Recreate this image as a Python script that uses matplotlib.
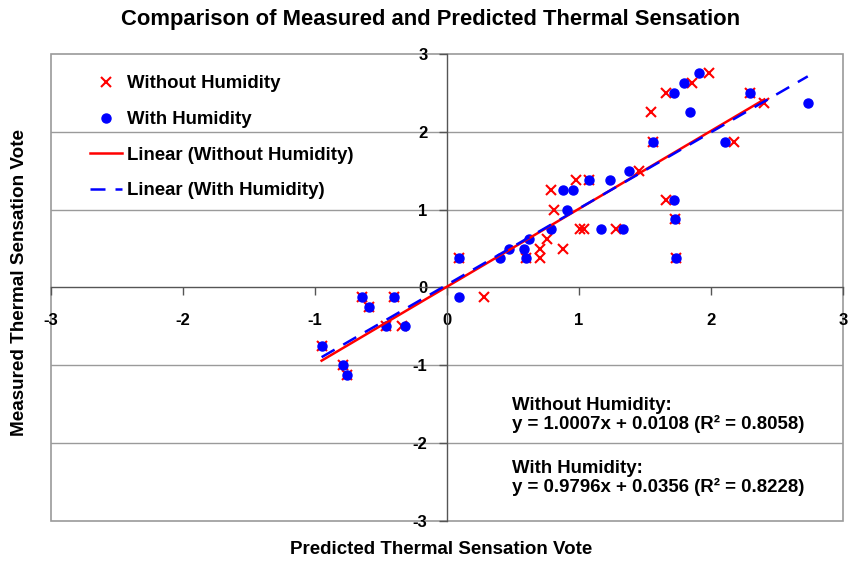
import matplotlib
matplotlib.use("Agg")
import matplotlib.pyplot as plt
from matplotlib.patches import Rectangle
import numpy as np

plt.rcParams['font.family'] = ['Liberation Sans', 'DejaVu Sans']
plt.rcParams['font.weight'] = 'bold'

# Without Humidity (red x)
wo_x = [-0.95, -0.785, -0.755, -0.645, -0.59, -0.46, -0.405, -0.34, 0.088, 0.278,
        0.602, 0.708, 0.708, 0.76, 0.88, 0.81, 0.79, 0.98, 1.075, 1.01, 1.04,
        1.278, 1.455, 1.561, 1.544, 1.658, 1.658, 1.726, 1.733, 1.855, 1.987,
        2.172, 2.295, 2.404]
wo_y = [-0.75, -1.0, -1.125, -0.125, -0.25, -0.5, -0.125, -0.5, 0.375, -0.125,
        0.375, 0.5, 0.375, 0.625, 0.5, 1.0, 1.25, 1.375, 1.375, 0.75, 0.75,
        0.75, 1.5, 1.875, 2.25, 2.5, 1.125, 0.875, 0.375, 2.625, 2.75,
        1.875, 2.5, 2.375]

# With Humidity (blue dots)
wh_x = [-0.95, -0.785, -0.755, -0.645, -0.59, -0.46, -0.405, -0.32, 0.088, 0.088,
        0.405, 0.468, 0.587, 0.602, 0.62, 0.79, 0.906, 0.88, 0.957, 1.075,
        1.235, 1.165, 1.336, 1.38, 1.561, 1.716, 1.716, 1.726, 1.733, 1.797,
        1.842, 1.906, 2.108, 2.295, 2.733]
wh_y = [-0.75, -1.0, -1.125, -0.125, -0.25, -0.5, -0.125, -0.5, 0.375, -0.125,
        0.375, 0.5, 0.5, 0.375, 0.625, 0.75, 1.0, 1.25, 1.25, 1.375,
        1.375, 0.75, 0.75, 1.5, 1.875, 2.5, 1.125, 0.875, 0.375, 2.625,
        2.25, 2.75, 1.875, 2.5, 2.375]

# Trendline equations (from chart annotations)
wo_slope, wo_int, wo_r2 = 1.0007, 0.0108, 0.8058
wh_slope, wh_int, wh_r2 = 0.9796, 0.0356, 0.8228

ticks = [-3, -2, -1, 0, 1, 2, 3]

fig = plt.figure(figsize=(8.57, 5.62), dpi=100)
W, H = 857, 562
L, R, T, B = 51, 843, 54, 521
ax = fig.add_axes([L / W, 1 - B / H, (R - L) / W, (B - T) / H])
ax.set_xlim(-3, 3)
ax.set_ylim(-3, 3)

# gridlines
for g in [-2, -1, 1, 2]:
    ax.axhline(g, color='#9a9a9a', lw=1.0, zorder=0)
ax.add_patch(Rectangle((0, 0), 1, 1, transform=ax.transAxes, fill=False,
                       edgecolor='#9a9a9a', lw=1.2, zorder=0, clip_on=False))

for s in ['top', 'right']:
    ax.spines[s].set_visible(False)
for s in ['left', 'bottom']:
    ax.spines[s].set_position(('data', 0))
    ax.spines[s].set_color('#555555')
    ax.spines[s].set_linewidth(1.0)

ax.set_xticks(ticks)
ax.set_yticks(ticks)
ax.set_xticklabels([str(t) for t in ticks])
ax.set_yticklabels([str(t) for t in ticks])
ax.tick_params(axis='both', direction='out', length=6, color='#555555', width=1.0,
               labelsize=12)
ax.tick_params(axis='x', pad=12.5)
ax.tick_params(axis='y', pad=8)
for lab in ax.get_xticklabels() + ax.get_yticklabels():
    lab.set_fontweight('bold')

ax.plot(wo_x, wo_y, linestyle='none', marker='x', color='#ff0000', markersize=7,
        markeredgewidth=1.5, label='Without Humidity', zorder=3)
ax.plot(wh_x, wh_y, linestyle='none', marker='o', color='#0000ff', markersize=6.5,
        label='With Humidity', zorder=4)

xr = np.array([min(wo_x), max(wo_x)])
ax.plot(xr, wo_slope * xr + wo_int, color='#ff0000', lw=1.8,
        label='Linear (Without Humidity)', zorder=5)
xb = np.array([min(wh_x), max(wh_x)])
ax.plot(xb, wh_slope * xb + wh_int, color='#0000ff', lw=1.8, dashes=(6, 4),
        label='Linear (With Humidity)', zorder=6)

leg = ax.legend(loc='upper left', bbox_to_anchor=(0.028, 0.99), frameon=False,
                labelspacing=1.0, handlelength=1.72, handletextpad=0.27,
                prop={'weight': 'bold', 'size': 13.4})

fig.text(512 / W, 1 - 397 / H, 'Without Humidity:\ny = %.4fx + %.4f (R² = %.4f)'
         % (wo_slope, wo_int, wo_r2), fontsize=13.4, fontweight='bold',
         va='top', ha='left', linespacing=1.1)
fig.text(512 / W, 1 - 460 / H, 'With Humidity:\ny = %.4fx + %.4f (R² = %.4f)'
         % (wh_slope, wh_int, wh_r2), fontsize=13.4, fontweight='bold',
         va='top', ha='left', linespacing=1.1)

fig.text(431 / W, 1 - 19 / H, 'Comparison of Measured and Predicted Thermal Sensation',
         ha='center', va='center', fontsize=15.8, fontweight='bold')
fig.text(441 / W, 1 - 550 / H, 'Predicted Thermal Sensation Vote',
         ha='center', va='center', fontsize=13.5, fontweight='bold')
fig.text(20 / W, 1 - 283 / H, 'Measured Thermal Sensation Vote', rotation=90,
         ha='center', va='center', fontsize=13.6, fontweight='bold')

fig.savefig('out.png', dpi=100)
